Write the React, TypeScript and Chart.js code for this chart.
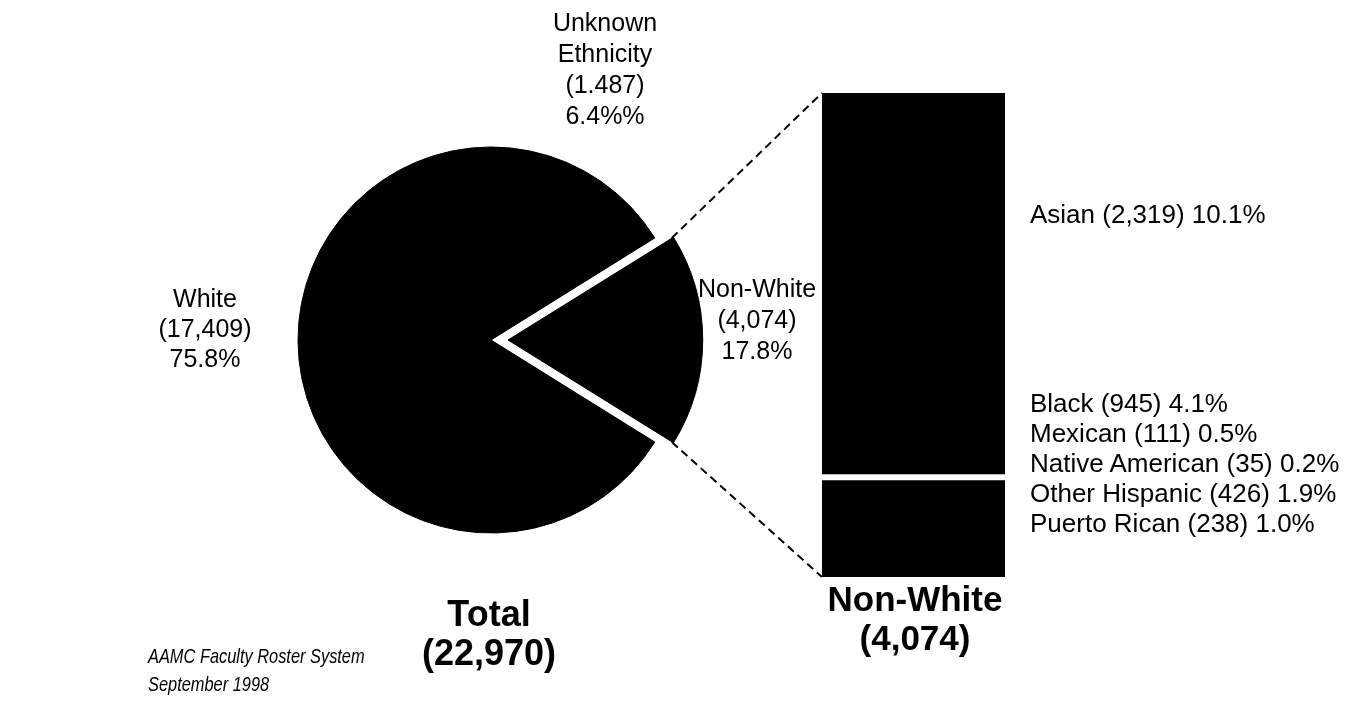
import React, { useEffect, useRef } from "react";
import { Chart, registerables } from "chart.js";

Chart.register(...registerables);

// ---- Data ----
const totalCategories = ["White", "Unknown Ethnicity", "Non-White"];
const totalValues = [17409, 1487, 4074];

// bottom -> top order in the stacked bar
const nonWhiteCategories = ["Puerto Rican", "Other Hispanic", "Native American", "Mexican", "Black", "Asian"];
const nonWhiteValues = [238, 426, 35, 111, 945, 2319];

const barLabelTexts = [
  "Asian (2,319) 10.1%",
  "Black (945) 4.1%",
  "Mexican (111) 0.5%",
  "Native American (35) 0.2%",
  "Other Hispanic (426) 1.9%",
  "Puerto Rican (238) 1.0%",
];
const whiteLabel = ["White", "(17,409)", "75.8%"];
const unknownLabel = ["Unknown", "Ethnicity", "(1.487)", "6.4%%"];
const nonWhiteLabel = ["Non-White", "(4,074)", "17.8%"];
const totalTitle = ["Total", "(22,970)"];
const nonWhiteTitle = ["Non-White", "(4,074)"];
const sourceNote = ["AAMC Faculty Roster System", "September 1998"];

// ---- Layout ----
const W = 1345;
const H = 707;
const PIE_CX = 491;
const PIE_CY = 340;
const PIE_R = 193;
const NW_SHIFT = 17;
const BAR_LEFT = 822;
const BAR_TOP = 93;
const BAR_W = 183;
const BAR_H = 484;

const FONT = "'Liberation Sans', Arial, Helvetica, sans-serif";

type Pt = { x: number; y: number };

function Lines(props: {
  lines: string[];
  x: number;
  y: number;
  lh: number;
  size: number;
  align?: "center" | "left";
  bold?: boolean;
  italic?: boolean;
  squeeze?: number;
}) {
  const { lines, x, y, lh, size, align = "center", bold, italic, squeeze } = props;
  return (
    <div
      style={{
        position: "absolute",
        left: align === "center" ? x - 300 : x,
        top: y - lh / 2,
        width: align === "center" ? 600 : 400,
        textAlign: align,
        fontFamily: FONT,
        fontSize: size,
        lineHeight: lh + "px",
        fontWeight: bold ? 700 : 400,
        fontStyle: italic ? "italic" : "normal",
        color: "#000",
        whiteSpace: "nowrap",
        zIndex: 5,
        transform: squeeze ? `scaleX(${squeeze})` : undefined,
        transformOrigin: "left center",
      }}
    >
      {lines.map((l, i) => (
        <div key={i}>{l}</div>
      ))}
    </div>
  );
}

export default function App() {
  const pieRef = useRef<HTMLCanvasElement | null>(null);
  const barRef = useRef<HTMLCanvasElement | null>(null);

  useEffect(() => {
    if (!pieRef.current || !barRef.current) return;
    const barTotal = nonWhiteValues.reduce((a, b) => a + b, 0);
    const grand = totalValues.reduce((a, b) => a + b, 0);
    const nwDeg = (360 * totalValues[2]) / grand;

    const corners: { top: Pt | null; bottom: Pt | null } = { top: null, bottom: null };

    const blackIdx = nonWhiteCategories.indexOf("Black");
    const bar = new Chart(barRef.current, {
      type: "bar",
      data: {
        labels: ["Non-White"],
        datasets: nonWhiteCategories.map((c, i) => ({
          label: c,
          data: [nonWhiteValues[i]],
          backgroundColor: "#000",
          borderColor: "#fff",
          borderWidth: i === blackIdx ? { top: 0, left: 0, right: 0, bottom: 7 } : 0,
          borderSkipped: false,
          inflateAmount: 0.6,
          barPercentage: 1,
          categoryPercentage: 1,
        })) as any,
      },
      options: {
        animation: false,
        responsive: false,
        layout: { padding: 0 },
        plugins: { legend: { display: false }, tooltip: { enabled: false } },
        scales: {
          x: { display: false, stacked: true },
          y: { display: false, stacked: true, min: 0, max: barTotal },
        },
      },
    });

    const topMeta = bar.getDatasetMeta(nonWhiteCategories.length - 1).data[0] as any;
    const botMeta = bar.getDatasetMeta(0).data[0] as any;
    corners.top = { x: BAR_LEFT + topMeta.x - topMeta.width / 2, y: BAR_TOP + topMeta.y };
    corners.bottom = { x: BAR_LEFT + botMeta.x - botMeta.width / 2, y: BAR_TOP + botMeta.base };

    const connector = {
      id: "connector",
      afterDraw(chart: any) {
        const arc = chart.getDatasetMeta(0).data[2];
        if (!arc || !corners.top || !corners.bottom) return;
        const { x, y, startAngle, endAngle, outerRadius } = arc.getProps(
          ["x", "y", "startAngle", "endAngle", "outerRadius"],
          true
        );
        const shift = (arc.options.offset || 0) / 4;
        const h = (startAngle + endAngle) / 2;
        const ox = x + Math.cos(h) * shift;
        const oy = y + Math.sin(h) * shift;
        const p1 = { x: ox + outerRadius * Math.cos(startAngle), y: oy + outerRadius * Math.sin(startAngle) };
        const p2 = { x: ox + outerRadius * Math.cos(endAngle), y: oy + outerRadius * Math.sin(endAngle) };
        const ctx = chart.ctx;
        ctx.save();
        ctx.strokeStyle = "#000";
        ctx.lineWidth = 2;
        ctx.setLineDash([8, 5]);
        ctx.beginPath();
        ctx.moveTo(p1.x, p1.y);
        ctx.lineTo(corners.top.x, corners.top.y);
        ctx.moveTo(p2.x, p2.y);
        ctx.lineTo(corners.bottom.x, corners.bottom.y);
        ctx.stroke();
        ctx.restore();
      },
    };

    const pie = new Chart(pieRef.current, {
      type: "pie",
      data: {
        labels: totalCategories,
        datasets: [
          {
            data: totalValues,
            backgroundColor: "#000",
            borderColor: "#000",
            borderWidth: 1,
            offset: [0, 0, NW_SHIFT * 4],
            hoverOffset: 0,
            radius: PIE_R,
            rotation: 90 + nwDeg / 2,
          } as any,
        ],
      },
      options: {
        animation: false,
        responsive: false,
        radius: PIE_R,
        rotation: 90 + nwDeg / 2,
        layout: { padding: { left: 0, top: 0, right: W - 2 * PIE_CX, bottom: H - 2 * PIE_CY } },
        plugins: { legend: { display: false }, tooltip: { enabled: false } },
      } as any,
      plugins: [connector],
    });

    return () => {
      pie.destroy();
      bar.destroy();
    };
  }, []);

  return (
    <div
      style={{
        position: "absolute",
        left: 0,
        top: 0,
        width: W,
        height: H,
        background: "#fff",
        overflow: "hidden",
      }}
    >
      <canvas
        ref={pieRef}
        width={W}
        height={H}
        style={{ position: "absolute", left: 0, top: 0, width: W, height: H, zIndex: 1 }}
      />
      <canvas
        ref={barRef}
        width={BAR_W}
        height={BAR_H}
        style={{ position: "absolute", left: BAR_LEFT, top: BAR_TOP, width: BAR_W, height: BAR_H, zIndex: 2 }}
      />
      <Lines lines={unknownLabel} x={605} y={22} lh={31} size={25} />
      <Lines lines={whiteLabel} x={205} y={298} lh={30} size={25} />
      <Lines lines={nonWhiteLabel} x={757} y={288} lh={31} size={25} />
      <Lines lines={[barLabelTexts[0]]} x={1030} y={214} lh={30} size={26} align="left" />
      <Lines lines={barLabelTexts.slice(1)} x={1030} y={403} lh={30} size={26} align="left" />
      <Lines lines={totalTitle} x={489} y={613} lh={39} size={36} bold />
      <Lines lines={nonWhiteTitle} x={915} y={598} lh={39} size={35} bold />
      <Lines lines={sourceNote} x={148} y={656} lh={28} size={21} italic align="left" squeeze={0.78} />
    </div>
  );
}
